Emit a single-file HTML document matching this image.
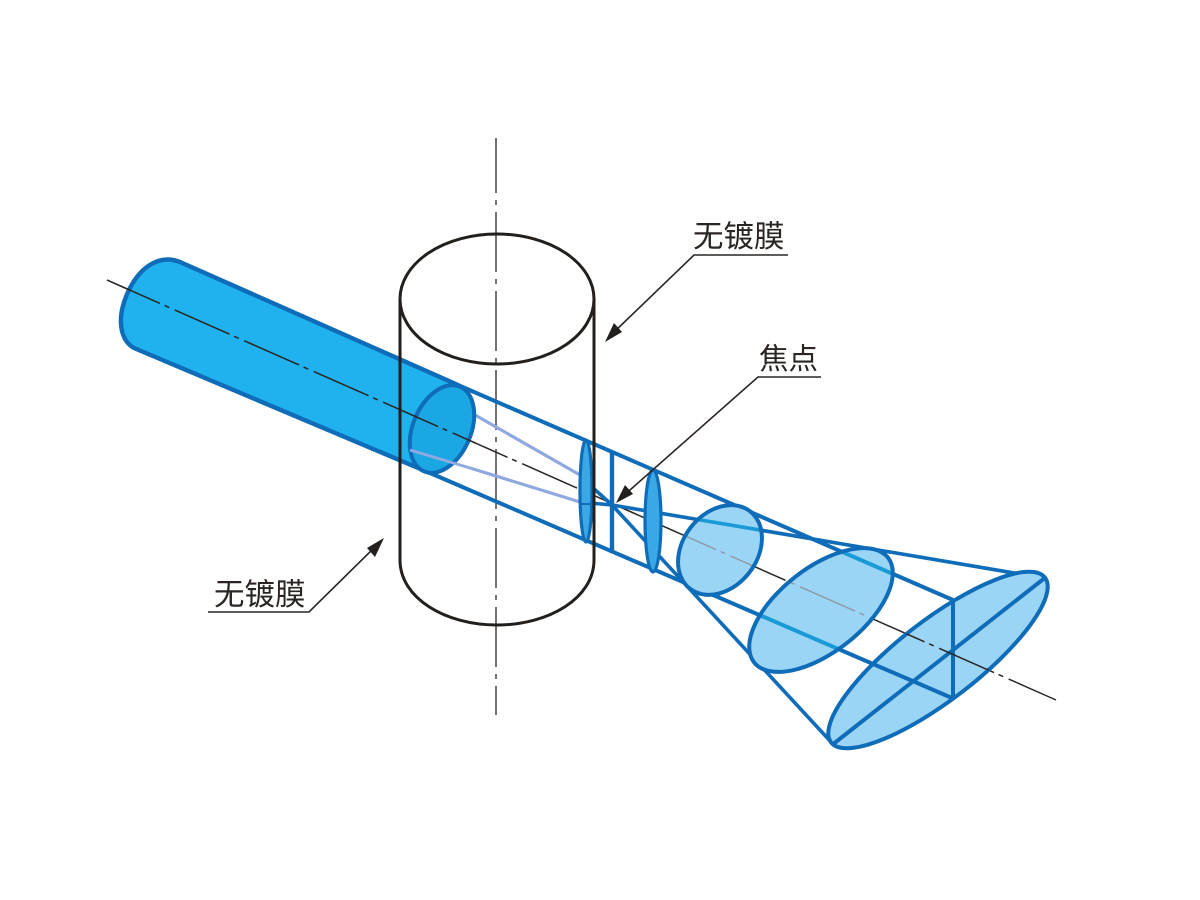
<!DOCTYPE html>
<html>
<head>
<meta charset="utf-8">
<style>
html,body{margin:0;padding:0;background:#fff;width:1200px;height:900px;overflow:hidden}
svg{display:block}
text{font-family:"Liberation Sans","Noto Sans CJK SC",sans-serif;fill:#2a2522}
</style>
</head>
<body>
<svg width="1200" height="900" viewBox="0 0 1200 900" xmlns="http://www.w3.org/2000/svg">
<defs>
<clipPath id="c3"><ellipse cx="720" cy="550" rx="49" ry="37" transform="rotate(-52 720 550)"/></clipPath>
<clipPath id="c4"><ellipse cx="821" cy="610" rx="85" ry="42" transform="rotate(-38 821 610)"/></clipPath>
<clipPath id="c5"><ellipse cx="938" cy="660" rx="135" ry="40" transform="rotate(-37.6 938 660)"/></clipPath>
<clipPath id="cb"><path d="M100 240 H458 L476 393 L476 480 H100 Z"/></clipPath>
</defs>
<rect width="1200" height="900" fill="#fff"/>

<!-- vertical axis -->
<line x1="496" y1="138" x2="496" y2="715" stroke="#2a2522" stroke-width="1.3" stroke-dasharray="60 7 5 7" stroke-dashoffset="5"/>

<!-- beam lines -->
<g fill="none" stroke="#0f6cb8" stroke-width="4">
<line x1="458" y1="385" x2="953" y2="600"/>
<line x1="430" y1="473" x2="952" y2="698"/>
</g>

<!-- center line -->
<line x1="107" y1="280" x2="1056" y2="700" stroke="#2a2522" stroke-width="1.5" stroke-dasharray="60 5 5 6" stroke-dashoffset="2"/>

<!-- light rays -->
<g stroke="#8fa9e0" stroke-width="3.2" fill="none">
<line x1="475" y1="415" x2="580" y2="475"/>
<line x1="470" y1="468" x2="580" y2="502"/>
</g>

<!-- converging / diverging rays -->
<g stroke="#0f6cb8" stroke-width="3.6" fill="none">
<line x1="592" y1="487" x2="612" y2="505"/>
<line x1="590" y1="503" x2="612" y2="505"/>
<line x1="612" y1="505" x2="1020" y2="574"/>
<line x1="612" y1="505" x2="832" y2="743"/>
</g>

<!-- pale ellipses -->
<ellipse cx="720" cy="550" rx="49" ry="37" transform="rotate(-52 720 550)" fill="#9bd5f5"/>
<ellipse cx="821" cy="610" rx="85" ry="42" transform="rotate(-38 821 610)" fill="#9bd5f5"/>
<ellipse cx="938" cy="660" rx="135" ry="40" transform="rotate(-37.6 938 660)" fill="#9bd5f5"/>

<!-- segments seen through pale ellipses -->
<g clip-path="url(#c3)">
<line x1="107" y1="280" x2="1056" y2="700" stroke="#8f9ba8" stroke-width="1.5" stroke-dasharray="60 5 5 6" stroke-dashoffset="2"/>
<line x1="612" y1="505" x2="1020" y2="574" stroke="#1a9ad6" stroke-width="3.6"/>
</g>
<g clip-path="url(#c4)">
<line x1="107" y1="280" x2="1056" y2="700" stroke="#8f9ba8" stroke-width="1.5" stroke-dasharray="60 5 5 6" stroke-dashoffset="2"/>
<line x1="458" y1="385" x2="953" y2="600" stroke="#1a9ad6" stroke-width="4"/>
<line x1="430" y1="473" x2="952" y2="698" stroke="#1a9ad6" stroke-width="4"/>
</g>
<g clip-path="url(#c5)">
<line x1="430" y1="473" x2="952" y2="698" stroke="#0f6cb8" stroke-width="4"/>
<line x1="458" y1="385" x2="953" y2="600" stroke="#0f6cb8" stroke-width="4"/>
</g>

<!-- ellipse outlines -->
<g fill="none" stroke="#0f6cb8" stroke-width="4">
<ellipse cx="720" cy="550" rx="49" ry="37" transform="rotate(-52 720 550)"/>
<ellipse cx="821" cy="610" rx="85" ry="42" transform="rotate(-38 821 610)"/>
<line x1="953" y1="600" x2="953" y2="700"/>
<line x1="832" y1="745" x2="1046" y2="577"/>
<ellipse cx="938" cy="660" rx="135" ry="40" transform="rotate(-37.6 938 660)"/>
</g>
<g clip-path="url(#c5)">
<line x1="107" y1="280" x2="1056" y2="700" stroke="#2a2522" stroke-width="1.5" stroke-dasharray="60 5 5 6" stroke-dashoffset="2"/>
</g>

<!-- lenses -->
<ellipse cx="586" cy="491" rx="6" ry="51" fill="#3aa8e4" stroke="#0f6cb8" stroke-width="3.2"/>
<line x1="580" y1="504" x2="592" y2="504" stroke="#0f6cb8" stroke-width="2"/>
<line x1="612" y1="453" x2="612" y2="553" stroke="#0f6cb8" stroke-width="4.4"/>
<ellipse cx="653" cy="521" rx="8" ry="51" fill="#3aa8e4" stroke="#0f6cb8" stroke-width="3.2"/>

<!-- solid input beam -->
<path d="M458 385 L180 262 C160 254 140 266 128 292 C116 318 120 340 134 348 L430 473 Z" fill="#1fb2ee" stroke="#0f6cb8" stroke-width="4.4" stroke-linejoin="round"/>
<ellipse cx="442" cy="429" rx="46" ry="29" transform="rotate(-67 442 429)" fill="#1ba8e2" stroke="#0f6cb8" stroke-width="4"/>
<line x1="107" y1="280" x2="1056" y2="700" stroke="#2a2522" stroke-width="1.5" stroke-dasharray="60 5 5 6" stroke-dashoffset="2" clip-path="url(#cb)"/>
<line x1="410" y1="450" x2="470" y2="468" stroke="#8fa9e0" stroke-width="3"/>

<!-- glass cylinder -->
<g fill="none" stroke="#231f1c" stroke-width="3">
<ellipse cx="497" cy="299" rx="97" ry="65"/>
<path d="M400 299 L400 560 C400 598 445 625 497 625 C549 625 594 598 594 560 L594 299"/>
</g>

<!-- leaders -->
<g fill="none" stroke="#2a2522" stroke-width="1.6">
<path d="M788 255 L694 255 L612 334"/>
<path d="M821 377 L758 377 L622 497"/>
<path d="M208 612 L309 612 L378 544"/>
</g>
<g fill="#231f1c">
<polygon points="605,342 614,323 622,332"/>
<polygon points="616,503 625,485 633,494"/>
<polygon points="384,538 375,557 367,548"/>
</g>

<!-- labels -->
<text x="693" y="247" font-size="30.5">无镀膜</text>
<text x="759" y="369" font-size="29.5">焦点</text>
<text x="214" y="605" font-size="30.5">无镀膜</text>
</svg>
</body>
</html>
